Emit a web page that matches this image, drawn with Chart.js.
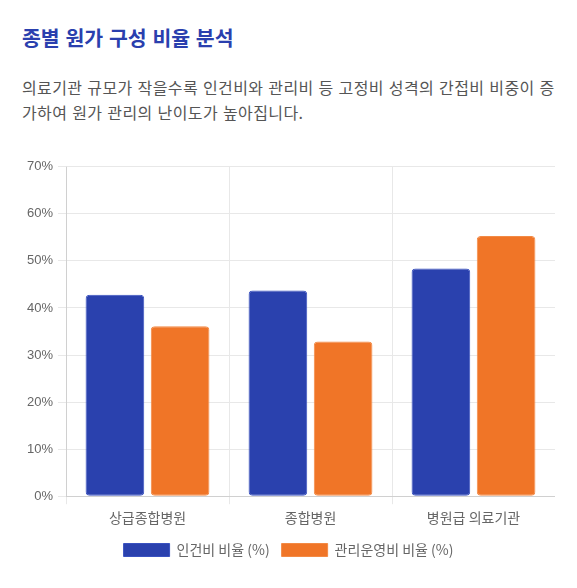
<!DOCTYPE html>
<html lang="ko">
<head>
<meta charset="utf-8">
<script src="https://cdn.jsdelivr.net/npm/chart.js@4.4.1/dist/chart.umd.min.js"></script>
<style>
    body {
        margin: 0;
        background: #fff;
        font-family: "Noto Sans CJK KR", "Noto Sans", sans-serif;
    }
    .card {
        width: 577px;
        height: 588px;
        box-sizing: border-box;
        padding: 22px 22px 0 22px;
    }
    h2 {
        margin: 0;
        font-size: 20.5px;
        font-weight: 700;
        color: #2a3fae;
        line-height: 30px;
    }
    p {
        margin: 23px -8px 0 0;
        font-size: 16px;
        letter-spacing: 0.4px;
        line-height: 25px;
        color: #555;
    }
    .chart-box {
        position: relative;
        width: 533px;
        height: 413px;
        margin-top: 29px;
    }
</style>
</head>
<body>
<div class="card">
    <h2>종별 원가 구성 비율 분석</h2>
    <p>의료기관 규모가 작을수록 인건비와 관리비 등 고정비 성격의 간접비 비중이 증가하여 원가 관리의 난이도가 높아집니다.</p>
    <div class="chart-box">
        <canvas id="grafico-custo"></canvas>
    </div>
</div>
<script>
const categorias = ['상급종합병원', '종합병원', '병원급 의료기관'];
const inTakRatio = [42.8, 43.7, 48.4];
const gwanriRatio = [36.1, 32.9, 55.3];
const yTicks = [0, 10, 20, 30, 40, 50, 60, 70];

const fonteKr = '"Noto Sans CJK KR", sans-serif';
const ctx = document.getElementById('grafico-custo');

new Chart(ctx, {
    type: 'bar',
    data: {
        labels: categorias,
        datasets: [{
            label: '인건비 비율 (%)',
            data: inTakRatio,
            backgroundColor: '#2a41ae',
            borderColor: '#3a52c0',
            borderWidth: 1,
            borderRadius: 4,
            borderSkipped: false
        }, {
            label: '관리운영비 비율 (%)',
            data: gwanriRatio,
            backgroundColor: '#f07527',
            borderColor: '#f38a45',
            borderWidth: 1,
            borderRadius: 4,
            borderSkipped: false
        }]
    },
    options: {
        responsive: true,
        maintainAspectRatio: false,
        animation: false,
        layout: { padding: { left: 0, right: 0 } },
        plugins: {
            legend: {
                position: 'bottom',
                labels: {
                    boxWidth: 46,
                    boxHeight: 13,
                    color: '#666',
                    font: { size: 14, family: fonteKr },
                    padding: 12
                }
            },
            tooltip: { enabled: false }
        },
        scales: {
            x: {
                grid: { color: '#e8e8e8' },
                ticks: {
                    color: '#666',
                    padding: 5,
                    font: { size: 14, family: fonteKr }
                }
            },
            y: {
                min: 0,
                max: 70,
                afterBuildTicks: axis => {
                    axis.ticks = yTicks.map(v => ({ value: v }));
                },
                ticks: {
                    color: '#666',
                    padding: 5,
                    font: { size: 13, family: 'Arial, "Liberation Sans", sans-serif' },
                    callback: value => value + '%'
                },
                grid: { color: '#e8e8e8' }
            }
        }
    }
});
</script>
</body>
</html>
